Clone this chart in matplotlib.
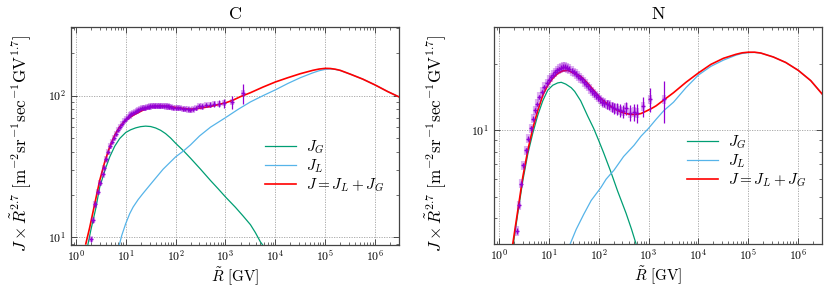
import numpy as np
import matplotlib
matplotlib.use("Agg")
import matplotlib.pyplot as plt
from matplotlib.ticker import LogLocator, NullFormatter, FuncFormatter, FixedLocator

plt.rcParams['mathtext.fontset'] = 'cm'
plt.rcParams['font.family'] = ['DejaVu Serif']

# ---------------- Carbon (C) ----------------
# model curves: log10(R / GV) and J x R^2.7
C_logR_G = [0.24, 0.30, 0.40, 0.48, 0.60, 0.68, 0.78, 0.88, 1.00, 1.10, 1.20, 1.30, 1.40,
            1.50, 1.60, 1.70, 1.80, 1.90, 2.00, 2.16, 2.30, 2.50, 2.70, 2.85, 3.00, 3.20,
            3.35, 3.50, 3.60, 3.70, 3.76]
C_JG = [8.8, 11.2, 16.0, 22.7, 31.0, 37.0, 44.0, 49.9, 55.0, 57.5, 59.3, 60.5, 61.0, 60.6,
        59.2, 57.0, 54.0, 50.3, 46.2, 40.8, 36.2, 30.3, 25.2, 22.1, 19.3, 16.3, 14.2, 12.3,
        10.8, 9.3, 8.7]

C_logR_L = [0.87, 0.92, 1.00, 1.08, 1.15, 1.25, 1.35, 1.48, 1.60, 1.75, 2.00, 2.16, 2.30,
            2.48, 2.70, 3.00, 3.25, 3.50, 3.75, 4.00, 4.25, 4.50, 4.75, 4.875, 5.00, 5.10,
            5.20, 5.30, 5.50, 5.75, 6.00, 6.25, 6.48]
C_JL = [8.8, 10.3, 12.5, 14.7, 16.4, 18.5, 20.5, 23.3, 26.2, 30.3, 37.0, 40.8, 45.0, 52.0,
        60.0, 70.0, 80.0, 90.4, 100.0, 110.0, 122.0, 134.0, 145.0, 150.0, 153.5, 154.5,
        153.3, 150.5, 142.0, 131.0, 119.0, 107.0, 98.0]

C_logR_J = [0.20, 0.28, 0.38, 0.48, 0.58, 0.68, 0.78, 0.88, 0.98, 1.08, 1.18, 1.28, 1.38,
            1.48, 1.60, 1.70, 1.85, 2.00, 2.18, 2.30, 2.48, 2.70, 2.85, 3.00, 3.15, 3.30,
            3.50, 3.75, 4.00, 4.25, 4.50, 4.75, 4.875, 5.00, 5.10, 5.20, 5.30, 5.50, 5.75,
            6.00, 6.25, 6.48]
C_J = [9.0, 11.8, 17.3, 25.3, 34.1, 43.5, 52.6, 60.3, 66.1, 70.2, 73.8, 76.9, 80.2, 83.0,
       84.0, 84.5, 84.0, 82.6, 81.0, 80.2, 81.5, 84.0, 86.5, 89.0, 93.0, 98.5, 105.0, 115.0,
       125.0, 134.0, 143.0, 151.0, 154.2, 156.0, 155.6, 153.8, 151.0, 142.0, 131.0, 119.0,
       107.0, 98.0]

# measured points (R in GV, J x R^2.7, statistical error)
C_data_R = [2.0, 2.22, 2.47, 2.8, 3.11, 3.5, 3.75, 4.1, 4.45, 4.9, 5.4, 5.9, 6.4, 7.0, 7.7,
            8.5, 9.3, 10.1, 11.0, 12.0, 13.0, 14.1, 15.3, 16.6, 18.0, 19.5, 21.1, 22.8, 24.7,
            26.7, 28.8, 31.1, 33.6, 36.3, 39.2, 42.4, 45.8, 49.6, 53.7, 58.3, 63.3, 68.9,
            75.2, 82.5, 90.7, 100, 111, 124, 138, 155, 175, 198, 226, 258, 297, 345, 410,
            500, 600, 750, 950, 1350, 2250]
C_data_J = [9.7, 13.2, 17.1, 20.9, 24.2, 27.8, 31.1, 35.5, 40.0, 44.0, 47.5, 50.5, 53.5,
            57.0, 60.5, 63.5, 66.0, 68.5, 70.5, 72.5, 74.0, 75.5, 77.0, 78.5, 79.5, 80.5,
            81.5, 82.0, 82.5, 83.0, 83.5, 84.0, 84.5, 84.5, 85.0, 85.0, 85.0, 85.0, 84.5,
            84.5, 84.0, 84.0, 83.5, 83.0, 82.5, 82.5, 82.0, 81.5, 81.0, 80.5, 80.0, 79.5,
            80.0, 82.0, 84.5, 84.0, 86.0, 86.5, 87.5, 88.0, 88.5, 90.5, 104.5]
C_data_err = [0.4, 0.5, 0.6, 0.7, 0.7, 0.8, 0.8, 0.9, 0.9, 1.0, 1.0, 1.0, 1.0, 1.0, 1.0,
              1.0, 1.0, 1.0, 1.0, 1.0, 1.0, 1.0, 1.0, 1.0, 1.0, 1.0, 1.0, 1.0, 1.0, 1.0,
              1.0, 1.0, 1.0, 1.0, 1.0, 1.0, 1.1, 1.1, 1.1, 1.1, 1.2, 1.2, 1.2, 1.3, 1.3,
              1.4, 1.5, 1.5, 1.6, 1.7, 1.8, 2.0, 2.2, 2.4, 2.6, 2.9, 3.3, 3.8, 4.4, 5.2,
              6.5, 9.5, 17.0]

# ---------------- Nitrogen (N) ----------------
N_logR_G = [0.29, 0.38, 0.48, 0.58, 0.68, 0.78, 0.88, 0.98, 1.08, 1.18, 1.25, 1.34, 1.45,
            1.52, 1.64, 1.78, 1.90, 2.00, 2.10, 2.246, 2.38, 2.55, 2.66, 2.75]
N_JG = [3.05, 4.2, 5.9, 7.8, 9.7, 11.7, 13.6, 15.2, 16.0, 16.4, 16.5, 16.2, 15.6, 15.0,
        13.6, 11.6, 10.2, 9.0, 7.9, 6.46, 5.3, 4.2, 3.55, 3.05]

N_logR_L = [1.43, 1.55, 1.70, 1.85, 2.046, 2.15, 2.31, 2.50, 2.71, 2.85, 3.00, 3.15, 3.31,
            3.50, 3.75, 4.00, 4.25, 4.50, 4.75, 4.875, 5.00, 5.125, 5.25, 5.50, 5.75, 6.00,
            6.25, 6.48]
N_JL = [3.05, 3.55, 4.15, 4.8, 5.5, 6.0, 6.6, 7.6, 8.55, 9.4, 10.2, 11.2, 12.3, 13.4, 15.6,
        17.8, 19.5, 20.8, 21.9, 22.3, 22.5, 22.55, 22.4, 21.5, 20.3, 18.7, 16.8, 14.6]

N_logR_J = [0.28, 0.38, 0.48, 0.58, 0.68, 0.78, 0.88, 0.98, 1.08, 1.18, 1.28, 1.38, 1.45,
            1.55, 1.646, 1.75, 1.846, 1.95, 2.046, 2.15, 2.246, 2.35, 2.446, 2.55, 2.646,
            2.75, 2.846, 2.95, 3.046, 3.15, 3.246, 3.50, 3.75, 4.00, 4.25, 4.50, 4.75, 4.875,
            5.00, 5.125, 5.25, 5.50, 5.75, 6.00, 6.25, 6.48]
N_J = [3.06, 4.33, 6.14, 8.1, 10.2, 12.3, 14.4, 16.0, 17.2, 18.1, 18.6, 18.7, 18.4, 18.0,
       17.5, 16.6, 15.7, 14.7, 13.9, 13.3, 12.8, 12.4, 12.1, 11.9, 11.8, 11.8, 11.9, 12.2,
       12.5, 12.9, 13.4, 14.8, 16.5, 18.2, 19.9, 21.2, 22.1, 22.45, 22.6, 22.6, 22.4, 21.5,
       20.3, 18.7, 16.8, 14.6]

N_data_R = [2.29, 2.59, 2.84, 3.11, 3.52, 3.92, 4.37, 4.79, 5.32, 5.83, 6.5, 7.24, 8.2, 9.1,
            10.3, 11.3, 12.4, 13.6, 14.9, 16.4, 18.0, 19.7, 21.6, 23.7, 26.0, 28.6, 31.4,
            34.5, 37.9, 41.6, 45.7, 50.2, 55.2, 60.6, 66.6, 73.2, 80.5, 88.6, 97.6, 107,
            118, 131, 145, 162, 182, 205, 233, 265, 305, 355, 420, 500, 600, 760, 1080, 2050]
N_data_J = [3.5, 4.56, 5.73, 6.93, 8.1, 9.17, 10.2, 11.3, 12.3, 13.2, 14.2, 14.9, 15.7,
            16.3, 16.9, 17.4, 17.9, 18.3, 18.7, 19.0, 19.2, 19.4, 19.4, 19.2, 19.0, 18.6,
            18.3, 18.0, 17.6, 17.3, 17.0, 16.6, 16.2, 15.8, 15.4, 15.0, 14.7, 14.4, 14.1,
            13.8, 13.5, 13.3, 13.1, 13.0, 12.8, 12.6, 12.5, 12.3, 12.2, 12.6, 12.0, 12.1,
            12.0, 12.85, 13.8, 13.8]
N_data_err = [0.12, 0.14, 0.16, 0.18, 0.2, 0.22, 0.24, 0.26, 0.28, 0.3, 0.32, 0.34, 0.36,
              0.38, 0.4, 0.4, 0.42, 0.44, 0.45, 0.46, 0.47, 0.48, 0.48, 0.48, 0.48, 0.48,
              0.48, 0.48, 0.48, 0.48, 0.48, 0.48, 0.48, 0.48, 0.48, 0.48, 0.5, 0.5, 0.52,
              0.54, 0.56, 0.58, 0.6, 0.62, 0.66, 0.7, 0.75, 0.8, 0.85, 0.9, 1.0, 1.1, 1.2,
              1.35, 1.7, 3.0]

x_ticks = [1, 10, 100, 1e3, 1e4, 1e5, 1e6]
C_y_ticks = [10, 100]
N_y_ticks = [10]

labels = [r'$J_G$', r'$J_L$', r'$J = J_L + J_G$']
col_G = '#009e73'
col_L = '#56b4e9'
col_J = '#ff0000'
col_D = '#9400d3'

fig = plt.figure(figsize=(8.3, 2.89), dpi=100)
ax1 = fig.add_axes([0.0855, 0.152, 0.3952, 0.7543])
ax2 = fig.add_axes([0.5952, 0.156, 0.3952, 0.7505])

YLABEL = r'$J\times\tilde{R}^{2.7}\ [\mathrm{m}^{-2}\mathrm{sr}^{-1}\mathrm{sec}^{-1}\mathrm{GV}^{1.7}]$'


def draw(ax, title, lRG, JG, lRL, JL, lRJ, J, dR, dJ, dE, ylim, yticks, legpos, ylabpos):
    ax.set_xscale('log')
    ax.set_yscale('log')
    lG, = ax.plot(10 ** np.array(lRG), JG, color=col_G, lw=0.9, zorder=3)
    lL, = ax.plot(10 ** np.array(lRL), JL, color=col_L, lw=0.9, zorder=3)
    lJ, = ax.plot(10 ** np.array(lRJ), J, color=col_J, lw=1.2, zorder=4)
    sys_err = np.array(dJ) * 0.05
    ax.errorbar(dR, dJ, yerr=sys_err, fmt='none', ecolor=col_D, alpha=0.3,
                elinewidth=3.0, capsize=0, zorder=5)
    ax.errorbar(dR, dJ, yerr=dE, fmt='+', color=col_D, ecolor=col_D, ms=3.5,
                mew=1.0, elinewidth=0.9, capsize=0, zorder=6)
    ax.set_xlim(0.8, 3e6)
    ax.set_ylim(*ylim)
    ax.xaxis.set_major_locator(FixedLocator(x_ticks))
    ax.xaxis.set_minor_locator(LogLocator(base=10, subs=np.arange(2, 10), numticks=20))
    ax.yaxis.set_major_locator(FixedLocator(yticks))
    ax.yaxis.set_minor_locator(LogLocator(base=10, subs=np.arange(2, 10), numticks=20))
    fmt = FuncFormatter(lambda v, p: r'$\mathsf{10^{%d}}$' % int(round(np.log10(v))))
    ax.xaxis.set_major_formatter(fmt)
    ax.yaxis.set_major_formatter(fmt)
    ax.xaxis.set_minor_formatter(NullFormatter())
    ax.yaxis.set_minor_formatter(NullFormatter())
    ax.tick_params(which='both', direction='in', top=True, right=True, labelsize=8.5,
                   color='#333333')
    ax.tick_params(which='major', length=4, width=0.6)
    ax.tick_params(which='minor', length=2, width=0.5)
    ax.tick_params(axis='x', pad=3)
    ax.grid(True, which='major', color='#a0a0a0', linestyle=(0, (1.5, 1.5)), lw=0.6)
    for s in ax.spines.values():
        s.set_color('#444444')
        s.set_linewidth(0.9)
    ax.set_title(r'$\mathrm{%s}$' % title, fontsize=13, pad=6)
    ax.set_xlabel(r'$\tilde{R}\ [\mathrm{GV}]$', fontsize=11, labelpad=1)
    ax.set_ylabel(YLABEL, fontsize=12.3)
    ax.yaxis.set_label_coords(*ylabpos)
    ax.legend([lG, lL, lJ], labels, loc='upper left', bbox_to_anchor=legpos, frameon=False,
              fontsize=11, handlelength=2.0, labelspacing=0.08, handletextpad=0.65,
              borderaxespad=0)


draw(ax1, 'C', C_logR_G, C_JG, C_logR_L, C_JL, C_logR_J, C_J, C_data_R, C_data_J,
     C_data_err, (8.83, 305), C_y_ticks, (0.573, 0.518), (-0.115, 0.465))
draw(ax2, 'N', N_logR_G, N_JG, N_logR_L, N_JL, N_logR_J, N_J, N_data_R, N_data_J,
     N_data_err, (3.05, 29.4), N_y_ticks, (0.570, 0.536), (-0.14, 0.465))

fig.savefig('out.png', dpi=100)
